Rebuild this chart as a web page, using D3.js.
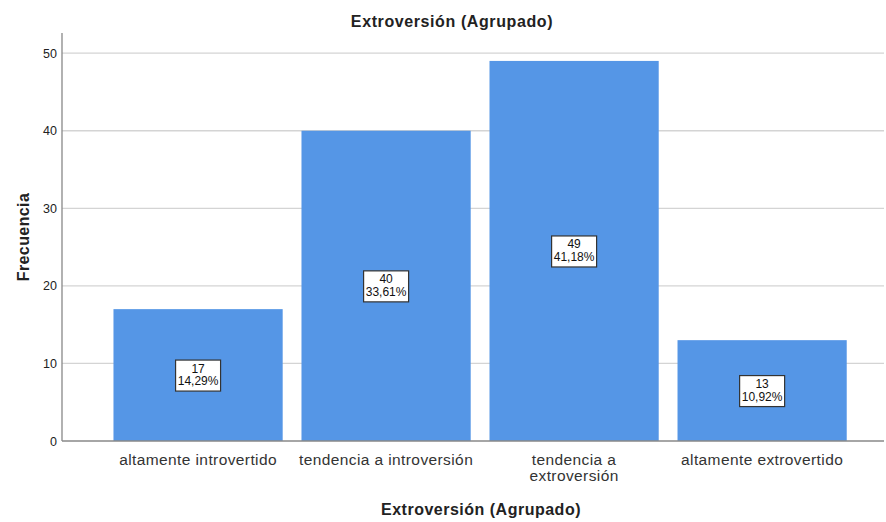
<!DOCTYPE html>
<html><head><meta charset="utf-8">
<script src="https://cdn.jsdelivr.net/npm/d3@7"></script>
<style>body{margin:0;background:#fff}text{font-family:Arial,"Liberation Sans",sans-serif}</style>
</head><body>
<svg id="c" width="886" height="522"></svg>
<script>
const categories = ["altamente introvertido", "tendencia a introversión", "tendencia a extroversión", "altamente extrovertido"];
const categoryLines = [["altamente introvertido"], ["tendencia a introversión"], ["tendencia a", "extroversión"], ["altamente extrovertido"]];
const counts = [17, 40, 49, 13];
const percents = ["14,29%", "33,61%", "41,18%", "10,92%"];
const yTicks = [0, 10, 20, 30, 40, 50];

(function () {
const svg = d3.select("#c");
const pL = 62, pR = 884, pT = 33, pB = 441;
const x = d3.scaleBand().domain(categories).range([pL, pR]).paddingInner(0.1).paddingOuter(0.236).align(0.58);
const y = d3.scaleLinear().domain([0, 52.6]).range([pB, pT]);

svg.append("g").selectAll("line").data(yTicks.filter(d => d > 0)).join("line")
  .attr("x1", pL).attr("x2", pR).attr("y1", d => y(d)).attr("y2", d => y(d))
  .attr("stroke", "#d4d4d4").attr("stroke-width", 1.3);

svg.append("g").selectAll("rect").data(counts).join("rect")
  .attr("x", (d, i) => x(categories[i])).attr("width", x.bandwidth())
  .attr("y", d => y(d)).attr("height", d => y(0) - y(d))
  .attr("fill", "#5596e6");

svg.append("line").attr("x1", pL).attr("x2", pL).attr("y1", pT).attr("y2", pB).attr("stroke", "#888").attr("stroke-width", 1.3);
svg.append("line").attr("x1", pL).attr("x2", pR).attr("y1", pB).attr("y2", pB).attr("stroke", "#888").attr("stroke-width", 1.3);

svg.append("g").selectAll("text").data(yTicks).join("text")
  .attr("x", pL - 5).attr("y", d => y(d)).attr("dy", "0.36em")
  .attr("text-anchor", "end").attr("font-size", 12.5).attr("fill", "#222").text(d => d);

const xl = svg.append("g");
categoryLines.forEach((lines, i) => {
  const cx = x(categories[i]) + x.bandwidth() / 2;
  lines.forEach((ln, j) => {
    xl.append("text").attr("x", cx).attr("y", 465 + j * 16).attr("text-anchor", "middle")
      .attr("font-size", 15.5).attr("letter-spacing", 0.4).attr("fill", "#333").text(ln);
  });
});

const lab = svg.append("g");
counts.forEach((c, i) => {
  const cx = x(categories[i]) + x.bandwidth() / 2;
  const cy = y(c / 2);
  lab.append("rect").attr("x", cx - 22.5).attr("y", cy - 15).attr("width", 45).attr("height", 31)
    .attr("fill", "#fff").attr("stroke", "#333").attr("stroke-width", 1.2);
  lab.append("text").attr("x", cx).attr("y", cy - 2.5).attr("text-anchor", "middle").attr("font-size", 12).attr("fill", "#111").text(c);
  lab.append("text").attr("x", cx).attr("y", cy + 10).attr("text-anchor", "middle").attr("font-size", 12).attr("fill", "#111").text(percents[i]);
});

svg.append("text").attr("x", 452).attr("y", 27).attr("text-anchor", "middle").attr("font-size", 16).attr("letter-spacing", 0.6).attr("font-weight", "bold").attr("fill", "#222").text("Extroversión (Agrupado)");
svg.append("text").attr("x", 481).attr("y", 515).attr("text-anchor", "middle").attr("font-size", 16).attr("letter-spacing", 0.5).attr("font-weight", "bold").attr("fill", "#222").text("Extroversión (Agrupado)");
svg.append("text").attr("transform", "translate(29,237) rotate(-90)").attr("text-anchor", "middle").attr("font-size", 16).attr("letter-spacing", 0.4).attr("font-weight", "bold").attr("fill", "#222").text("Frecuencia");
})();
</script>
</body></html>
